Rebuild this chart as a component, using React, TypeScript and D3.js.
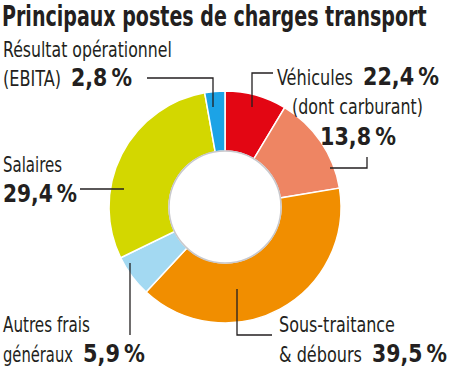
import React, { useLayoutEffect, useRef } from "react";
import * as d3 from "d3";

const categories = [
  "Véhicules (hors carburant)",
  "Carburant",
  "Sous-traitance & débours",
  "Autres frais généraux",
  "Salaires",
  "Résultat opérationnel (EBITA)",
];
const values = [8.6, 13.8, 39.5, 5.9, 29.4, 2.8];
const colors = ["#e30613", "#ee8563", "#f18e00", "#a3d9f2", "#d3d700", "#1ca3e6"];

const W = 450;
const H = 371;
const CX = 225;
const CY = 207;
const R_OUT = 116;
const R_IN = 56;

const FONT = "'Liberation Sans Narrow', 'DejaVu Sans Condensed', 'Arial Narrow', sans-serif";
const INK = "#231f20";

// leader lines (annotation geometry, relative to chart centre)
const leaders: [number, number][][] = [
  [[-78, -129], [-12, -129], [-12, -100]],
  [[48, -134], [27, -134], [27, -100]],
  [[142, -50], [142, -39], [105, -39]],
  [[-145, -18], [-101, -18]],
  [[-95, 128], [-95, 56]],
  [[47, 128], [12, 128], [12, 82]],
];

function T(props: {
  x: number;
  y: number;
  w: number;
  bold?: boolean;
  size?: number;
  children: React.ReactNode;
}) {
  return (
    <text
      transform={`translate(${props.x},${props.y})`}
      data-x={props.x}
      data-y={props.y}
      data-w={props.w}
      fontWeight={props.bold ? "bold" : "normal"}
      fontSize={props.size}
    >
      {props.children}
    </text>
  );
}

export default function App() {
  const ref = useRef<SVGSVGElement>(null);
  const pie = d3
    .pie<number>()
    .sort(null)
    .value((d) => d)
    .startAngle(0)
    .endAngle(2 * Math.PI);
  const arcs = pie(values);
  const arc = d3.arc<d3.PieArcDatum<number>>().innerRadius(R_IN).outerRadius(R_OUT);
  const line = d3.line();

  const pct = (v: number) => d3.format(".1f")(v).replace(".", ",") + "\u2009%";
  const total = (a: number, b: number) => Math.round((a + b) * 10) / 10;
  const B = 25;

  useLayoutEffect(() => {
    if (!ref.current) return;
    d3.select(ref.current)
      .selectAll<SVGTextElement, unknown>("text[data-w]")
      .each(function () {
        const el = this;
        const x = +el.getAttribute("data-x")!;
        const y = +el.getAttribute("data-y")!;
        const w = +el.getAttribute("data-w")!;
        const len = el.getComputedTextLength();
        const s = len > 0 ? w / len : 1;
        el.setAttribute("transform", `translate(${x},${y}) scale(${s},1)`);
      });
  });

  return (
    <svg ref={ref} width={W} height={H} style={{ position: "absolute", left: 0, top: 0 }}>
      <rect width={W} height={H} fill="#fff" />
      <g fontFamily={FONT} fill={INK}>
        <T x={2} y={26} w={425} bold size={29}>
          Principaux postes de charges transport
        </T>
      </g>
      <g transform={`translate(${CX},${CY})`}>
        {arcs.map((a, i) => (
          <path key={i} d={arc(a) || ""} fill={colors[i]} stroke="#fff" strokeWidth={1.5} />
        ))}
        <circle r={R_IN} fill="#fff" stroke="#c8c8cc" strokeWidth={1.5} />
        {leaders.map((pts, i) => (
          <path key={i} d={line(pts) || ""} fill="none" stroke={INK} strokeWidth={1.3} />
        ))}
      </g>
      <g fontFamily={FONT} fontSize={22} fill={INK}>
        <T x={3} y={57} w={169} size={22}>Résultat opérationnel</T>
        <T x={3} y={86} w={58} size={22}>(EBITA)</T>
        <T x={71} y={86} w={61} bold size={B}>{pct(values[5])}</T>

        <T x={277} y={85} w={76} size={22}>Véhicules</T>
        <T x={363} y={85} w={76} bold size={B}>{pct(total(values[0], values[1]))}</T>
        <T x={292} y={114} w={131} size={22}>(dont carburant)</T>
        <T x={320} y={145} w={76} bold size={B}>{pct(values[1])}</T>

        <T x={3} y={172} w={59} size={22}>Salaires</T>
        <T x={3} y={202} w={74} bold size={B}>{pct(values[4])}</T>

        <T x={3} y={332} w={87} size={22}>Autres frais</T>
        <T x={3} y={362} w={70} size={22}>généraux</T>
        <T x={83} y={362} w={62} bold size={B}>{pct(values[3])}</T>

        <T x={279} y={332} w={116} size={22}>Sous-traitance</T>
        <T x={279} y={362} w={83} size={22}>&amp; débours</T>
        <T x={372} y={362} w={75} bold size={B}>{pct(values[2])}</T>
      </g>
    </svg>
  );
}
